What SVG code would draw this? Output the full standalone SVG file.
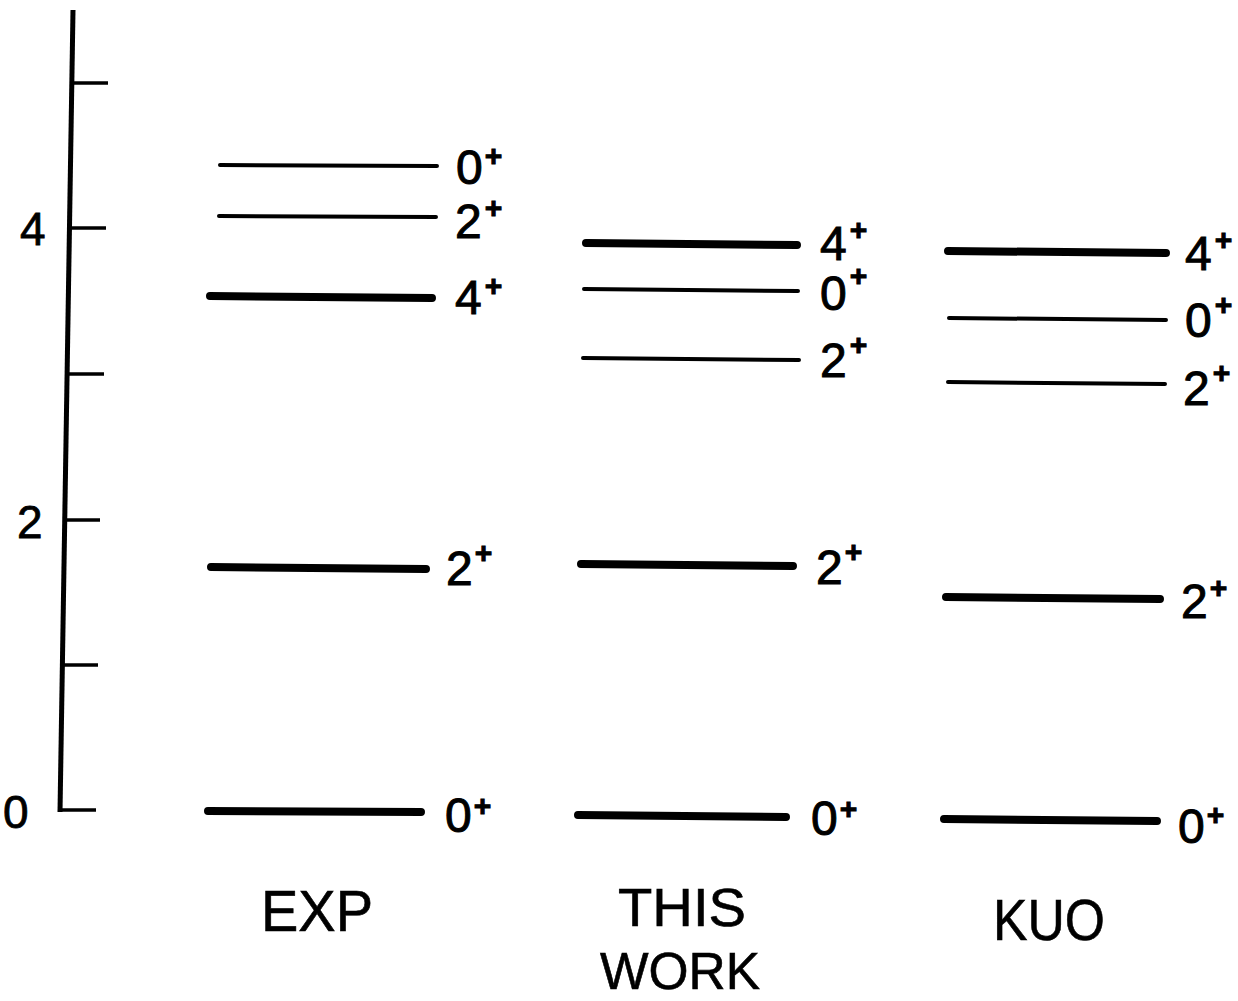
<svg xmlns="http://www.w3.org/2000/svg" width="1238" height="1001" viewBox="0 0 1238 1001">
<style>
.thick{stroke:#000;stroke-width:8;stroke-linecap:round;fill:none}
.thin{stroke:#000;stroke-width:4;stroke-linecap:round;fill:none}
.axis{stroke:#000;stroke-width:5;fill:none}
.tick{stroke:#000;stroke-width:3.5;fill:none}
.lbl{font-family:"Liberation Sans",Arial,sans-serif;font-size:48px;fill:#000;stroke:#000;stroke-width:1}
.sup{font-size:30px;font-weight:bold}
.ax{font-family:"Liberation Sans",Arial,sans-serif;font-size:46px;fill:#000;stroke:#000;stroke-width:0.8}
.col{font-family:"Liberation Sans",Arial,sans-serif;font-size:58px;fill:#000;stroke:#000;stroke-width:0.6}
</style>
<rect width="1238" height="1001" fill="#fff"/>
<g id="axis">
<line class="axis" x1="73" y1="10" x2="60" y2="812"/>
<line class="tick" x1="72" y1="83" x2="108" y2="83"/>
<line class="tick" x1="70" y1="228" x2="106" y2="228"/>
<line class="tick" x1="67" y1="374" x2="104" y2="374"/>
<line class="tick" x1="65" y1="520" x2="100" y2="520"/>
<line class="tick" x1="62" y1="665" x2="98" y2="665"/>
<line class="tick" x1="60" y1="810" x2="96" y2="810"/>
<text class="ax" x="20" y="245">4</text>
<text class="ax" x="17" y="538">2</text>
<text class="ax" x="3" y="828">0</text>
</g>
<g id="exp">
<line class="thin" x1="220" y1="165" x2="437" y2="166"/>
<text class="lbl" x="456" y="184">0<tspan class="sup" dx="2" dy="-18">+</tspan></text>
<line class="thin" x1="219" y1="216" x2="436" y2="217"/>
<text class="lbl" x="455" y="238">2<tspan class="sup" dx="3" dy="-20">+</tspan></text>
<line class="thick" x1="210" y1="296" x2="432" y2="298"/>
<text class="lbl" x="455" y="314">4<tspan class="sup" dx="3" dy="-18">+</tspan></text>
<line class="thick" x1="211" y1="567" x2="426" y2="569"/>
<text class="lbl" x="446" y="585">2<tspan class="sup" dx="2" dy="-22">+</tspan></text>
<line class="thick" x1="208" y1="811" x2="421" y2="812"/>
<text class="lbl" x="445" y="832">0<tspan class="sup" dx="2" dy="-16">+</tspan></text>
<text class="col" x="261" y="931" textLength="112" lengthAdjust="spacingAndGlyphs">EXP</text>
</g>
<g id="thiswork">
<line class="thick" x1="586" y1="243" x2="797" y2="245"/>
<text class="lbl" x="820" y="260">4<tspan class="sup" dx="3" dy="-20">+</tspan></text>
<line class="thin" x1="584" y1="289" x2="798" y2="291"/>
<text class="lbl" x="820" y="310">0<tspan class="sup" dx="3" dy="-24">+</tspan></text>
<line class="thin" x1="583" y1="358" x2="799" y2="360"/>
<text class="lbl" x="820" y="377">2<tspan class="sup" dx="3" dy="-22">+</tspan></text>
<line class="thick" x1="581" y1="564" x2="793" y2="566"/>
<text class="lbl" x="816" y="584">2<tspan class="sup" dx="2" dy="-22">+</tspan></text>
<line class="thick" x1="578" y1="815" x2="786" y2="817"/>
<text class="lbl" x="811" y="835">0<tspan class="sup" dx="2" dy="-16">+</tspan></text>
<text class="col" x="618" y="926" style="font-size:54px" textLength="128" lengthAdjust="spacingAndGlyphs">THIS</text>
<text class="col" x="600" y="989" style="font-size:52px" textLength="160" lengthAdjust="spacingAndGlyphs">WORK</text>
</g>
<g id="kuo">
<line class="thick" x1="948" y1="251" x2="1166" y2="253"/>
<text class="lbl" x="1185" y="270">4<tspan class="sup" dx="3" dy="-20">+</tspan></text>
<line class="thin" x1="949" y1="318" x2="1166" y2="320"/>
<text class="lbl" x="1185" y="337">0<tspan class="sup" dx="3" dy="-22">+</tspan></text>
<line class="thin" x1="948" y1="382" x2="1165" y2="384"/>
<text class="lbl" x="1183" y="405">2<tspan class="sup" dx="3" dy="-22">+</tspan></text>
<line class="thick" x1="946" y1="597" x2="1160" y2="599"/>
<text class="lbl" x="1181" y="618">2<tspan class="sup" dx="2" dy="-20">+</tspan></text>
<line class="thick" x1="944" y1="819" x2="1157" y2="821"/>
<text class="lbl" x="1178" y="843">0<tspan class="sup" dx="2" dy="-18">+</tspan></text>
<text class="col" x="993" y="940" textLength="112" lengthAdjust="spacingAndGlyphs">KUO</text>
</g>
</svg>
